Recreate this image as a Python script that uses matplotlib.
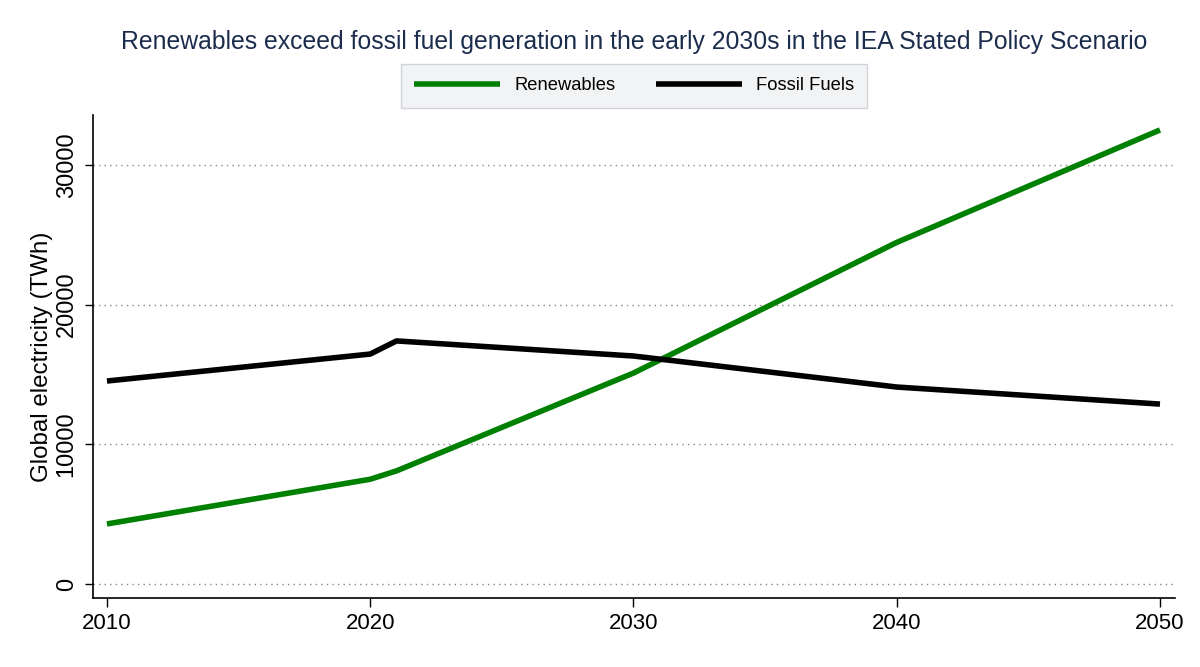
import matplotlib
matplotlib.use("Agg")
import matplotlib.pyplot as plt

years = [2010, 2020, 2021, 2030, 2040, 2050]
renewables = [4300, 7500, 8100, 15100, 24450, 32500]
fossil = [14530, 16460, 17400, 16320, 14100, 12880]
xticks = [2010, 2020, 2030, 2040, 2050]
yticks = [0, 10000, 20000, 30000]

plt.rcParams['font.family'] = ['Liberation Sans', 'DejaVu Sans']

fig = plt.figure(figsize=(12, 6.67), dpi=100)
ax = fig.add_axes([93/1200, 1 - 598/667, (1175-93)/1200, (598-115)/667])

ax.plot(years, renewables, color='#008000', lw=4.0, label='Renewables', solid_capstyle='butt')
ax.plot(years, fossil, color='black', lw=4.0, label='Fossil Fuels', solid_capstyle='butt')

ax.set_xlim(2009.47, 2050.57)
ax.set_ylim(-1000, 33570)
ax.set_xticks(xticks)
ax.set_yticks(yticks)
ax.set_yticklabels([str(v) for v in yticks], rotation=90, va='center')
ax.tick_params(axis='x', labelsize=16, length=6.5, width=1, colors='black', pad=4)
ax.tick_params(axis='y', labelsize=17, length=6, width=1, colors='black', pad=5)
for v in yticks:
    ax.axhline(v, color='#888888', lw=1, ls=(0, (1, 3)), zorder=0)
for s in ['top', 'right']:
    ax.spines[s].set_visible(False)
for s in ['left', 'bottom']:
    ax.spines[s].set_linewidth(1.2)

ax.set_ylabel('Global electricity (TWh)', fontsize=17.4, labelpad=2)

fig.text(634/1200, 1 - 42/667, 'Renewables exceed fossil fuel generation in the early 2030s in the IEA Stated Policy Scenario',
         ha='center', va='center', fontsize=17.8, color='#1c2c4c')

leg = ax.legend(loc='center', bbox_to_anchor=(634/1200, (667-86)/667), bbox_transform=fig.transFigure,
                ncol=2, frameon=True, fontsize=13.2, handlelength=4.7, handletextpad=0.77,
                columnspacing=2.2, borderpad=0.72, borderaxespad=0, fancybox=False)
leg.get_frame().set_facecolor('#eef0f3')
leg.get_frame().set_edgecolor('#c8ccd2')
leg.get_frame().set_linewidth(1)

fig.savefig('out.png', dpi=100)
